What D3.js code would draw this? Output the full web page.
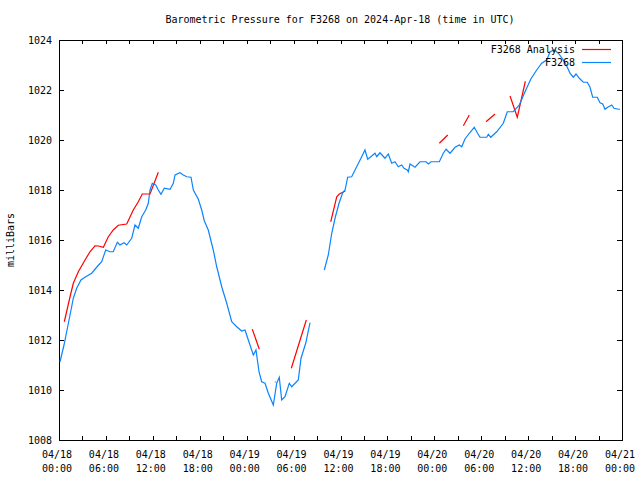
<!DOCTYPE html>
<html>
<head>
<meta charset="utf-8">
<script src="https://cdn.jsdelivr.net/npm/d3@7"></script>
<style>
  html, body { margin: 0; padding: 0; background: #fff; }
  svg { display: block; }
  text { font-family: "DejaVu Sans Mono", "Liberation Mono", monospace; font-size: 10px; fill: #000; }
</style>
</head>
<body>
<svg id="chart" width="640" height="480"></svg>
<script>
// ---- data (hours since 2024-04-18 00:00 UTC, pressure in mb) ----
const title = "Barometric Pressure for F3268 on 2024-Apr-18 (time in UTC)";
const yLabel = "milliBars";
const seriesNames = ["F3268 Analysis", "F3268"];

const obsHours = [0.13,0.64,1.11,1.62,1.83,2.26,2.81,3.41,4.18,4.95,5.46,5.97,6.52,6.94,7.46,7.80,8.31,8.66,9.30,9.72,
  10.14,10.58,11.09,11.42,11.64,11.93,12.37,12.70,13.04,13.47,14.20,14.62,14.84,15.47,15.90,16.33,16.88,17.18,17.82,18.25,
  18.58,19.09,19.73,20.17,20.81,21.45,22.09,22.73,23.37,23.79,24.21,24.85,25.19,25.58,25.92,26.35,26.77,27.41,27.84,28.17,
  28.48,28.90,29.45,29.76,30.60,30.95,31.55,32.10,33.0,
  33.93,34.44,34.88,35.30,35.81,36.28,36.58,36.92,37.43,38.07,38.71,39.13,39.48,39.99,40.41,40.63,41.05,41.69,42.11,42.55,
  42.97,43.39,43.83,44.12,44.54,44.67,44.89,45.53,46.17,46.94,47.23,47.58,48.64,49.15,49.50,50.01,50.65,51.19,51.50,51.92,
  52.47,53.11,53.42,53.84,54.70,54.91,55.21,55.98,56.82,57.33,58.10,58.87,59.60,60.33,61.09,61.73,62.37,62.80,63.35,63.86,
  64.50,64.93,65.35,65.77,66.12,66.54,67.05,67.56,67.91,68.25,68.84,69.19,69.53,69.83,70.17,70.69,70.98,71.53,71.75];
const obsValues = [1011.13,1011.80,1012.53,1013.33,1013.67,1014.07,1014.40,1014.53,1014.67,1014.96,1015.13,1015.60,1015.53,1015.53,1015.91,1015.80,1015.89,1015.80,1016.07,1016.60,
  1016.47,1016.93,1017.20,1017.47,1018.00,1018.27,1018.20,1018.00,1017.83,1018.07,1018.03,1018.27,1018.60,1018.69,1018.60,1018.53,1018.51,1018.00,1017.63,1017.20,
  1016.77,1016.40,1015.60,1014.93,1014.13,1013.47,1012.73,1012.53,1012.36,1012.40,1012.00,1011.40,1011.60,1010.73,1010.33,1010.27,1009.87,1009.40,1010.27,1010.51,
  1009.60,1009.73,1010.27,1010.13,1010.40,1011.27,1011.87,1012.69,null,
  1014.80,1015.40,1016.27,1016.87,1017.47,1017.89,1018.00,1018.51,1018.53,1018.93,1019.33,1019.60,1019.23,1019.36,1019.47,1019.33,1019.49,1019.27,1019.44,1019.07,
  1019.13,1018.93,1019.00,1018.87,1018.80,1018.73,1019.04,1018.91,1019.13,1019.13,1019.04,1019.13,1019.13,1019.47,1019.63,1019.47,1019.71,1019.80,1019.73,1020.04,
  1020.27,1020.51,1020.33,1020.11,1020.11,1020.23,1020.11,1020.33,1020.67,1021.13,1021.13,1021.40,1021.93,1022.43,1022.80,1023.07,1023.20,1023.53,1023.60,1023.47,
  1023.20,1022.96,1022.67,1022.51,1022.64,1022.47,1022.31,1022.31,1022.11,1021.71,1021.71,1021.49,1021.44,1021.23,1021.31,1021.40,1021.27,1021.23,1021.23];

const anaHours = [0.68,1.41,1.83,2.47,3.33,3.96,4.60,5.03,5.67,6.31,6.94,7.58,8.66,9.50,10.14,10.65,11.64,12.19,12.70,18.0,
  24.72,25.62,26.5,
  27.60,27.72,28.5,
  29.71,31.63,33.0,
  34.75,35.52,35.85,36.16,36.62,42.0,
  48.64,49.71,50.5,
  51.71,52.47,53.5,
  54.61,55.76,56.5,
  57.68,58.61,59.64];
const anaValues = [1012.73,1013.73,1014.27,1014.73,1015.20,1015.53,1015.77,1015.76,1015.71,1016.13,1016.40,1016.59,1016.64,1017.20,1017.53,1017.84,1017.84,1018.29,1018.71,null,
  1012.43,1011.63,null,
  1010.32,1010.32,null,
  1010.87,1012.80,null,
  1016.73,1017.73,1017.84,1017.89,1017.96,null,
  1019.87,1020.20,null,
  1020.57,1021.00,null,
  1020.73,1021.04,null,
  1021.76,1020.91,1022.35];

const yTicks = [1008,1010,1012,1014,1016,1018,1020,1022,1024];
const startTime = Date.UTC(2024, 3, 18, 0, 0);
const endTime = Date.UTC(2024, 3, 21, 0, 0);

// ---- layout ----
const svg = d3.select("#chart");
const mLeft = 59, mRight = 622, mTop = 40, mBottom = 440;
const toDate = h => new Date(startTime + h * 3600000);

const x = d3.scaleUtc().domain([new Date(startTime), new Date(endTime)]).range([mLeft, mRight]);
const y = d3.scaleLinear().domain([1008, 1024]).range([mBottom, mTop]);

const obs = obsHours.map((h, i) => ({t: toDate(h), v: obsValues[i]}));
const ana = anaHours.map((h, i) => ({t: toDate(h), v: anaValues[i]}));

// title
svg.append("text").attr("x", 340).attr("y", 23).attr("text-anchor", "middle").text(title);

// y label
svg.append("text").attr("transform", "translate(14,240) rotate(-90)")
  .attr("text-anchor", "middle").text(yLabel);

const xTickVals = d3.utcHour.every(3).range(new Date(startTime), new Date(endTime + 1));
const xLabelVals = d3.utcHour.every(6).range(new Date(startTime), new Date(endTime + 1));

function styleAxis(g) {
  g.select(".domain").remove();
  g.selectAll("line").attr("stroke", "#000").attr("shape-rendering", "crispEdges");
}
// axes with inward ticks
svg.append("g").attr("transform", `translate(0,${mBottom})`)
  .call(d3.axisBottom(x).tickValues(xTickVals).tickSizeInner(-4).tickSizeOuter(0).tickFormat(""))
  .call(styleAxis);
svg.append("g").attr("transform", `translate(0,${mTop})`)
  .call(d3.axisTop(x).tickValues(xTickVals).tickSizeInner(-4).tickSizeOuter(0).tickFormat(""))
  .call(styleAxis);
svg.append("g").attr("transform", `translate(${mLeft},0)`)
  .call(d3.axisLeft(y).tickValues(yTicks).tickSizeInner(-5).tickSizeOuter(0).tickFormat(""))
  .call(styleAxis);
svg.append("g").attr("transform", `translate(${mRight},0)`)
  .call(d3.axisRight(y).tickValues(yTicks).tickSizeInner(-5).tickSizeOuter(0).tickFormat(""))
  .call(styleAxis);

// frame
svg.append("rect").attr("x", mLeft + 0.5).attr("y", mTop + 0.5)
  .attr("width", mRight - mLeft).attr("height", mBottom - mTop)
  .attr("fill", "none").attr("stroke", "#000").attr("shape-rendering", "crispEdges");

// x labels (every 6 hours)
const fmtDate = d3.utcFormat("%m/%d"), fmtTime = d3.utcFormat("%H:%M");
xLabelVals.forEach(d => {
  const t = svg.append("text").attr("text-anchor", "middle");
  t.append("tspan").attr("x", x(d) - 2).attr("y", 458).text(fmtDate(d));
  t.append("tspan").attr("x", x(d) - 2).attr("y", 472).text(fmtTime(d));
});

// y labels
yTicks.forEach(v => {
  svg.append("text").attr("x", 52).attr("y", y(v) + 4).attr("text-anchor", "end").text(v);
});

const line = d3.line().defined(d => d.v !== null).x(d => x(d.t)).y(d => y(d.v));

// analysis (red)
svg.append("path").datum(ana).attr("d", line)
  .attr("fill", "none").attr("stroke", "#ff0000").attr("stroke-width", 1.2);
// observations (blue)
svg.append("path").datum(obs).attr("d", line)
  .attr("fill", "none").attr("stroke", "#0a84ff").attr("stroke-width", 1.2);

// legend
const legendColors = ["#ff0000", "#0a84ff"];
seriesNames.forEach((n, i) => {
  const ly = 49 + i * 13;
  svg.append("text").attr("x", 575).attr("y", ly + 4).attr("text-anchor", "end").text(n);
  svg.append("line").attr("x1", 582).attr("x2", 611).attr("y1", ly + 0.5).attr("y2", ly + 0.5)
    .attr("stroke", legendColors[i]).attr("stroke-width", 1.2);
});
</script>
</body>
</html>
